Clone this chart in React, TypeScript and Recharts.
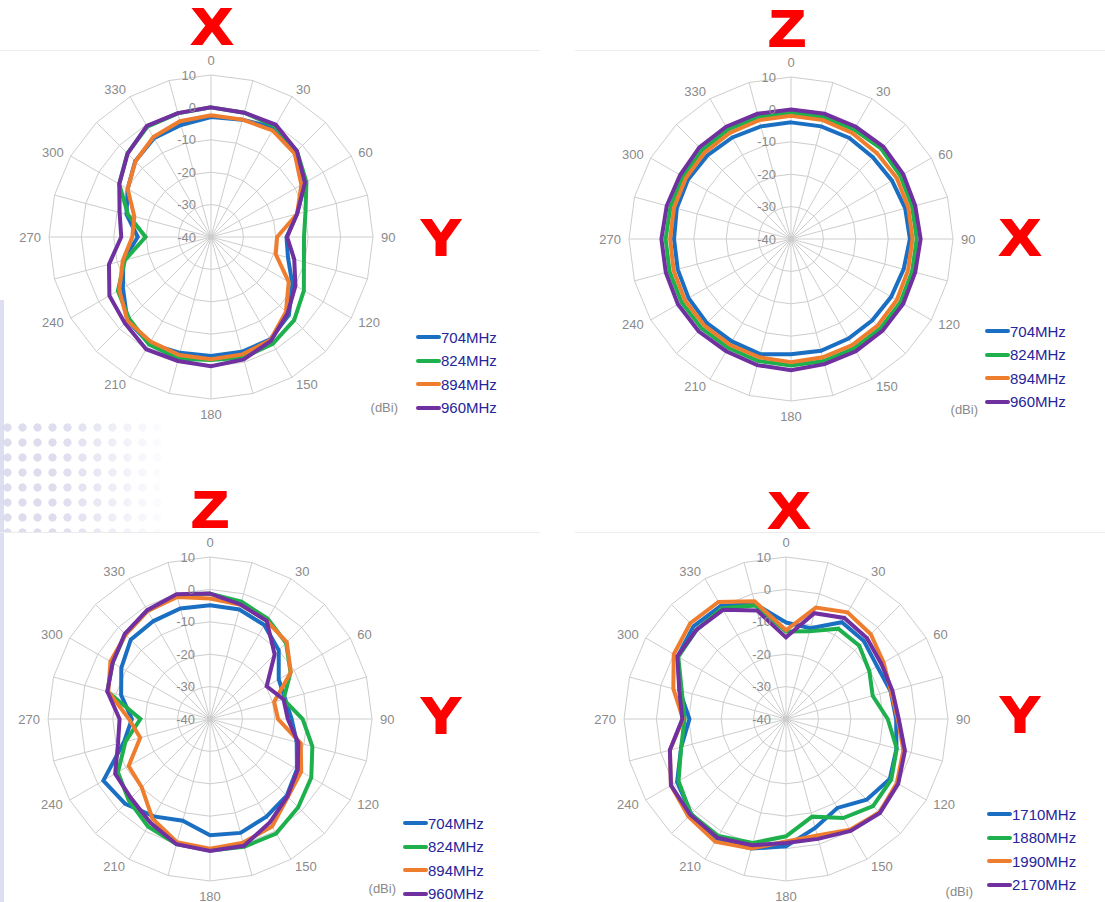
import { RadarChart, Radar, PolarGrid, PolarAngleAxis, PolarRadiusAxis } from "recharts";

// measurement angles (degrees, clockwise from top)
const angles = [0, 15, 30, 45, 60, 75, 90, 105, 120, 135, 150, 165, 180, 195, 210, 225, 240, 255, 270, 285, 300, 315, 330, 345];

// low band, X-Y plane (dBi)
const xy704 = [-3, -2.5, -1, -2.8, -6.5, -12.5, -16.7, -15.4, -11, -6, -3.5, -3.3, -3.3, -3, -2, -3.5, -8.6, -12, -17.4, -13, -10.3, -6.9, -4.8, -4.2];
const xy824 = [0, -0.3, -0.5, -2.5, -6, -9.8, -11.3, -10.3, -6.9, -3.7, -1.9, -1.5, -2, -1.1, -1.7, -4.3, -6.8, -12.5, -19.8, -13.5, -7.3, -3.5, -0.7, -0.5];
const xy894 = [-2.4, -2.5, -2, -3.5, -7.8, -12.5, -19.6, -19.3, -12.3, -7.3, -3.3, -2.5, -2.3, -2.3, -2.7, -3.5, -7.3, -11.8, -15.7, -15.5, -10.3, -7, -4.4, -3];
const xy960 = [0, -0.3, 0, -2.5, -6.5, -12.5, -16.5, -13.4, -9.9, -6.6, -3, -0.9, -0.1, -0.4, 0, -2.4, -3.8, -7.4, -12.3, -10.8, -7.3, -3.6, -0.4, -0.4];

// low band, Z-X plane
const zx704 = [-4, -4, -4, -4.3, -4, -3.5, -3.3, -4, -4.3, -4.5, -4.5, -4.3, -4.4, -3.2, -3.5, -3.3, -3.5, -3.8, -3.9, -3.5, -3.3, -3.5, -3.8, -4];
const zx824 = [-1, -1, -1, -0.6, -1, -1.3, -1.2, -1.3, -1, -1, -1, -1, -1, -1, -1.2, -1, -1, -1.2, -1.3, -1.5, -1.5, -1.2, -1, -1];
const zx894 = [-2, -2, -2.2, -2.5, -2.3, -2.5, -2.5, -2.6, -2.3, -2.2, -2.2, -2.2, -2, -2.2, -2.3, -2.2, -2.2, -2.5, -2.7, -2.6, -2.5, -2.3, -2.2, -2];
const zx960 = [0, 0, 0, 0.3, 0, -0.3, 0, -0.3, 0, 0, 0, 0, 0.5, 0.3, 0, 0.3, 0.3, 0, 0, -0.3, -0.5, 0, 0, 0];

// low band, Z-Y plane
const zy704 = [-4.9, -5, -6.5, -10, -15.5, -16, -14.8, -12.3, -9, -6.5, -5.2, -3.6, -4.1, -7.5, -5.3, -3, -2, -12.5, -15.9, -11.6, -8.4, -5.4, -5.1, -4.7];
const zy824 = [-1.3, -2.5, -4.3, -6.8, -11.3, -16.5, -11.4, -7.3, -3.9, -1.5, 0.8, 0.8, 0.6, 0, -1.7, -4.5, -7.2, -13, -18.5, -7.2, -5.3, -3, -1.5, -0.5];
const zy894 = [-2.8, -3.5, -5, -6.5, -11.2, -19.5, -19, -11, -7.5, -6, -1.7, -0.5, 0, -0.6, -4.5, -10.2, -11, -17.7, -15, -7.5, -4.5, -3.2, -1.5, -1];
const zy960 = [-1.3, -3.4, -5, -11.8, -19.8, -16.5, -16, -11.8, -8.7, -6.2, -3.1, 0.5, 0.7, 0, -3.1, -5.5, -6.2, -10.6, -12.1, -7.2, -5.3, -2.8, -1.2, -0.1];

// high band, X-Y plane
const hb1710 = [-10.2, -11, -5.5, -6, -7.5, -6.6, -6, -4.7, -3, -4.8, -8.3, -5.2, -0.7, 1.4, 3, 1.4, -1.2, -6.5, -10.2, -6, -1.4, 0.4, 0.3, -3.3];
const hb1880 = [-13, -12, -7.8, -8, -10.3, -12.3, -8.6, -4.6, -2.5, -2, -4.7, -8.8, -3.8, -0.4, 1.7, 1.5, -1.7, -6.5, -8.7, -6.7, -1.6, -1, -0.5, -3.7];
const hb1990 = [-12.6, -4.4, -2, -3, -5.2, -6.5, -5.5, -2.5, -0.5, 0.8, -0.5, -2.8, -2.2, 1.4, 3.7, 2.6, 1, -2.9, -8.2, -4, 0, 1.8, 1.7, -2.4];
const hb2170 = [-14.8, -6.2, -4, -4.7, -6, -6, -5.2, -2, 0, 1, -0.1, -1.7, -1.7, 0.3, 2.3, 1.8, 1, -2.9, -8, -5.9, -1.3, -1, -1.1, -5.3];

const lowNames = ["704MHz", "824MHz", "894MHz", "960MHz"];
const highNames = ["1710MHz", "1880MHz", "1990MHz", "2170MHz"];
const colors = ["#1b6fc2", "#1fb04e", "#ef7d2e", "#7030a0"];

const FONT = "'Liberation Sans', Arial, sans-serif";
const SIZE = 420;
const C = 210;
const R = 162;

function buildRows(series: number[][]) {
  return angles.map((a, i) => ({ angle: a, s0: series[0][i], s1: series[1][i], s2: series[2][i], s3: series[3][i] }));
}

const AngleTick = (props: any) => {
  const v = props.payload.value;
  if (v % 30 !== 0) return <g />;
  const t = (v * Math.PI) / 180;
  const s = Math.sin(t);
  const c = Math.cos(t);
  const x = C + (R + 8) * s;
  let y = C - (R + 8) * c;
  let anchor = "middle";
  if (s > 0.01) anchor = "start";
  else if (s < -0.01) anchor = "end";
  else y -= c * 7;
  return (
    <text x={x} y={y} textAnchor={anchor} dominantBaseline="central" fill="#8a8a8a" fontSize={13} fontFamily={FONT}>
      {v}
    </text>
  );
};

const RadiusTick = (props: any) => (
  <text x={props.x - 15} y={props.y} textAnchor="end" dominantBaseline="central" fill="#8a8a8a" fontSize={13} fontFamily={FONT}>
    {props.payload.value}
  </text>
);

function Panel({ series, cx, cy }: { series: number[][]; cx: number; cy: number }) {
  const data = buildRows(series);
  return (
    <div style={{ position: "absolute", left: cx - C, top: cy - C }}>
      <RadarChart width={SIZE} height={SIZE} cx={C} cy={C} outerRadius={R} data={data} margin={{ top: 0, right: 0, bottom: 0, left: 0 }}>
        <PolarGrid gridType="polygon" stroke="#cdcdcd" />
        <PolarAngleAxis dataKey="angle" tick={AngleTick} tickLine={false} axisLine={false} />
        {colors.map((col, i) => (
          <Radar
            key={i}
            dataKey={"s" + i}
            stroke={col}
            strokeWidth={4}
            fill="none"
            fillOpacity={0}
            dot={false}
            isAnimationActive={false}
          />
        ))}
        <PolarRadiusAxis angle={90} domain={[-40, 10]} tickCount={6} axisLine={false} tick={RadiusTick} />
      </RadarChart>
    </div>
  );
}

function Legend({ names, x, y, dbiX, dbiY }: { names: string[]; x: number; y: number; dbiX: number; dbiY: number }) {
  return (
    <>
      {names.map((n, i) => (
        <div key={n} style={{ position: "absolute", left: x, top: y + i * 23.5 - 10, height: 20, display: "flex", alignItems: "center" }}>
          <div style={{ width: 25, height: 4, borderRadius: 2, background: colors[i] }} />
          <span style={{ fontFamily: FONT, fontSize: 15, color: "#25259a" }}>{n}</span>
        </div>
      ))}
      <div style={{ position: "absolute", left: dbiX - 40, width: 40, top: dbiY - 9, textAlign: "right", fontFamily: FONT, fontSize: 13, color: "#8a8a8a", lineHeight: "18px" }}>
        (dBi)
      </div>
    </>
  );
}

function Letter({ ch, x, y }: { ch: string; x: number; y: number }) {
  return (
    <div
      style={{
        position: "absolute",
        left: x,
        top: y,
        transform: "translate(-50%, -50%) scaleX(1.2)",
        fontFamily: FONT,
        fontWeight: 700,
        fontSize: 50,
        lineHeight: "38px",
        height: 38,
        color: "#ff0000",
        WebkitTextStroke: "2px #ff0000",
      }}
    >
      {ch}
    </div>
  );
}

export default function App() {
  return (
    <div style={{ position: "absolute", left: 0, top: 0, width: 1105, height: 902, overflow: "hidden", background: "#fff" }}>
      {/* slide decoration */}
      <div style={{ position: "absolute", left: 0, top: 300, width: 4, height: 602, background: "#dedef2" }} />
      <div
        style={{
          position: "absolute",
          left: 0,
          top: 420,
          width: 170,
          height: 112,
          backgroundImage: "radial-gradient(circle, #cfcfe8 36%, transparent 42%)",
          backgroundSize: "15px 15px",
          WebkitMaskImage: "linear-gradient(to right, #000 35%, transparent)",
          maskImage: "linear-gradient(to right, #000 35%, transparent)",
          opacity: 0.7,
        }}
      />
      <div style={{ position: "absolute", left: 0, top: 50, width: 540, height: 1, background: "#ececec" }} />
      <div style={{ position: "absolute", left: 575, top: 50, width: 530, height: 1, background: "#ececec" }} />
      <div style={{ position: "absolute", left: 0, top: 532, width: 540, height: 1, background: "#ececec" }} />
      <div style={{ position: "absolute", left: 575, top: 532, width: 530, height: 1, background: "#ececec" }} />

      <Panel series={[xy704, xy824, xy894, xy960]} cx={211} cy={237} />
      <Panel series={[zx704, zx824, zx894, zx960]} cx={791} cy={239} />
      <Panel series={[zy704, zy824, zy894, zy960]} cx={210} cy={719} />
      <Panel series={[hb1710, hb1880, hb1990, hb2170]} cx={786} cy={719} />

      <Legend names={lowNames} x={416} y={337} dbiX={398} dbiY={408} />
      <Legend names={lowNames} x={985} y={331} dbiX={978} dbiY={410} />
      <Legend names={lowNames} x={403} y={823} dbiX={396} dbiY={889} />
      <Legend names={highNames} x={987} y={814} dbiX={973} dbiY={892} />

      <Letter ch="X" x={212} y={27} />
      <Letter ch="Y" x={441} y={238} />
      <Letter ch="Z" x={787} y={29} />
      <Letter ch="X" x={1020} y={238} />
      <Letter ch="Z" x={210} y={510} />
      <Letter ch="Y" x={441} y={716} />
      <Letter ch="X" x={789} y={511} />
      <Letter ch="Y" x={1020} y={715} />
    </div>
  );
}
